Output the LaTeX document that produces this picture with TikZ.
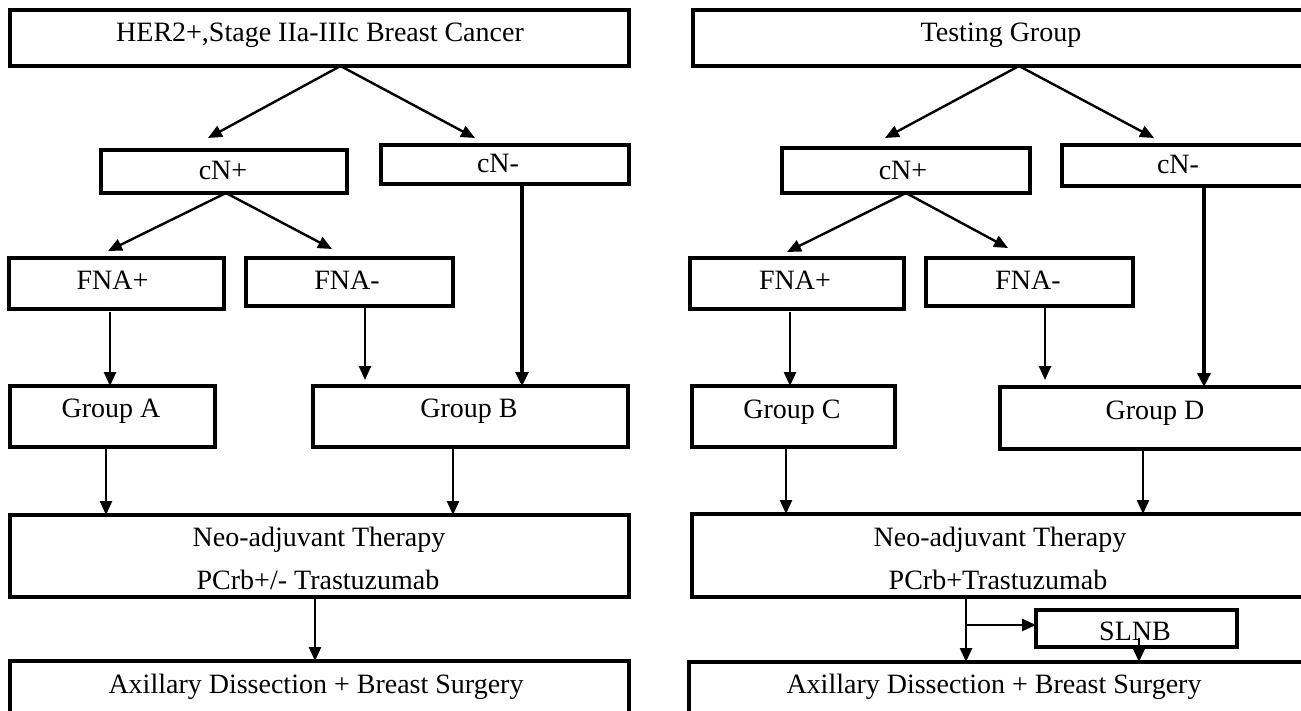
\documentclass[tikz,border=0pt]{standalone}
\usepackage{fontspec}
\setmainfont{Liberation Serif}
\usetikzlibrary{arrows.meta}
\tikzset{
  bx/.style={draw, rectangle, line width=3.3pt, inner sep=0pt, outer sep=0pt},
  txt/.style={font=\fontsize{28}{33}\selectfont, inner sep=0pt, anchor=base},
  arr/.style={line width=2.4pt, -{Triangle[length=14pt,width=12pt]}},
  arrb/.style={line width=3.2pt, -{Triangle[length=14pt,width=13pt]}}
}
\begin{document}
\begin{tikzpicture}[x=1pt,y=-1pt]
\useasboundingbox (0,0) rectangle (1301,711);
\fill[white] (0,0) rectangle (1301,711);
\clip (0,0) rectangle (1301,711);
% ---------- left boxes ----------
\node[bx, minimum width=619pt, minimum height=56pt] (top1) at (319.5,38) {};
\node[bx, minimum width=246pt, minimum height=43pt] (cnp1) at (224,171.5) {};
\node[bx, minimum width=248pt, minimum height=39pt] (cnm1) at (505,164.5) {};
\node[bx, minimum width=215pt, minimum height=51pt] (fnap1) at (116.5,283.5) {};
\node[bx, minimum width=207pt, minimum height=48pt] (fnam1) at (349.5,282) {};
\node[bx, minimum width=205pt, minimum height=61pt] (ga) at (112.5,416.5) {};
\node[bx, minimum width=315pt, minimum height=61pt] (gb) at (470.5,416.5) {};
\node[bx, minimum width=619pt, minimum height=82pt] (neo1) at (319.5,556) {};
\node[bx, minimum width=619pt, minimum height=79pt] (ax1) at (319.5,700.5) {};
% ---------- right boxes ----------
\node[bx, minimum width=616pt, minimum height=56pt] (top2) at (1001,38) {};
\node[bx, minimum width=248pt, minimum height=45pt] (cnp2) at (906,170.5) {};
\node[bx, minimum width=248pt, minimum height=41pt] (cnm2) at (1186,165.5) {};
\node[bx, minimum width=214pt, minimum height=51pt] (fnap2) at (797,283.5) {};
\node[bx, minimum width=207pt, minimum height=48pt] (fnam2) at (1029.5,282) {};
\node[bx, minimum width=203pt, minimum height=61pt] (gc) at (793.5,416.5) {};
\node[bx, minimum width=310pt, minimum height=62pt] (gd) at (1155,418) {};
\node[bx, minimum width=618pt, minimum height=83pt] (neo2) at (1001,555.5) {};
\node[bx, minimum width=201pt, minimum height=37pt] (slnb) at (1136.5,628.5) {};
\node[bx, minimum width=621pt, minimum height=78pt] (ax2) at (999.5,701) {};
% ---------- texts ----------
\node[txt] (top1t) at (320,42) {HER2+,Stage IIa-IIIc Breast Cancer};
\node[txt] (cnp1t) at (223,180) {cN+};
\node[txt] (cnm1t) at (498,173) {cN-};
\node[txt] (fnap1t) at (112.5,290) {FNA+};
\node[txt] (fnam1t) at (347,290) {FNA-};
\node[txt] (gat) at (111,417) {Group A};
\node[txt] (gbt) at (469,417) {Group B};
\node[txt] (neo1a) at (319,546) {Neo-adjuvant Therapy};
\node[txt] (neo1b) at (318,589) {PCrb+/- Trastuzumab};
\node[txt] (ax1t) at (316,693) {Axillary Dissection + Breast Surgery};
\node[txt] (top2t) at (1001,42) {Testing Group};
\node[txt] (cnp2t) at (903,180) {cN+};
\node[txt] (cnm2t) at (1178,174) {cN-};
\node[txt] (fnap2t) at (795,290) {FNA+};
\node[txt] (fnam2t) at (1028,290) {FNA-};
\node[txt] (gct) at (792,418) {Group C};
\node[txt] (gdt) at (1155,419) {Group D};
\node[txt] (neo2a) at (1000,546) {Neo-adjuvant Therapy};
\node[txt] (neo2b) at (998,589) {PCrb+Trastuzumab};
\node[txt] (slnbt) at (1135,640) {SLNB};
\node[txt] (ax2t) at (994,693) {Axillary Dissection + Breast Surgery};
% ---------- free arrow ends ----------
\coordinate (e1) at (208,138);
\coordinate (e2) at (475,138);
\coordinate (e3) at (108,251);
\coordinate (e4) at (332,249);
\coordinate (e5) at (365,380);
\coordinate (e11) at (885,138);
\coordinate (e12) at (1154,138);
\coordinate (e13) at (787,252);
\coordinate (e14) at (1008,248);
\coordinate (e15) at (1045,380);
\coordinate (br) at (966,625);
% ---------- left connectors ----------
\draw[arr] ([xshift=21pt]top1.south) -- (e1);
\draw[arr] ([xshift=21pt]top1.south) -- (e2);
\draw[arr] ([xshift=2pt]cnp1.south) -- (e3);
\draw[arr] ([xshift=2pt]cnp1.south) -- (e4);
\draw[arr] ([xshift=-6.5pt,yshift=-3pt]fnap1.south) -- ([xshift=-2.5pt]ga.north);
\draw[arr] ([xshift=15.5pt,yshift=-2pt]fnam1.south) -- (e5);
\draw[arrb] ([xshift=17pt]cnm1.south) -- ([xshift=51.5pt]gb.north);
\draw[arr] ([xshift=-6.5pt]ga.south) -- ([xshift=-213.5pt]neo1.north);
\draw[arr] ([xshift=-17.5pt]gb.south) -- ([xshift=133.5pt]neo1.north);
\draw[arr] ([xshift=-4.5pt]neo1.south) -- ([xshift=-4.5pt]ax1.north);
% ---------- right connectors ----------
\draw[arr] ([xshift=18pt]top2.south) -- (e11);
\draw[arr] ([xshift=18pt]top2.south) -- (e12);
\draw[arr] (cnp2.south) -- (e13);
\draw[arr] (cnp2.south) -- (e14);
\draw[arr] ([xshift=-7pt,yshift=-3pt]fnap2.south) -- ([xshift=-3.5pt]gc.north);
\draw[arr] ([xshift=15.5pt,yshift=-2pt]fnam2.south) -- (e15);
\draw[arrb] ([xshift=18pt]cnm2.south) -- ([xshift=49pt]gd.north);
\draw[arr] ([xshift=-7.5pt]gc.south) -- ([xshift=-215pt]neo2.north);
\draw[arr] ([xshift=-12pt]gd.south) -- ([xshift=142pt]neo2.north);
\draw[arr] ([xshift=-35pt]neo2.south) -- ([xshift=-33.5pt]ax2.north);
\draw[arr] (br) -- (br -| slnb.west);
\draw[arr] ([xshift=2.5pt,yshift=9pt]slnb.south) -- ([xshift=139.5pt]ax2.north);
\end{tikzpicture}
\end{document}
